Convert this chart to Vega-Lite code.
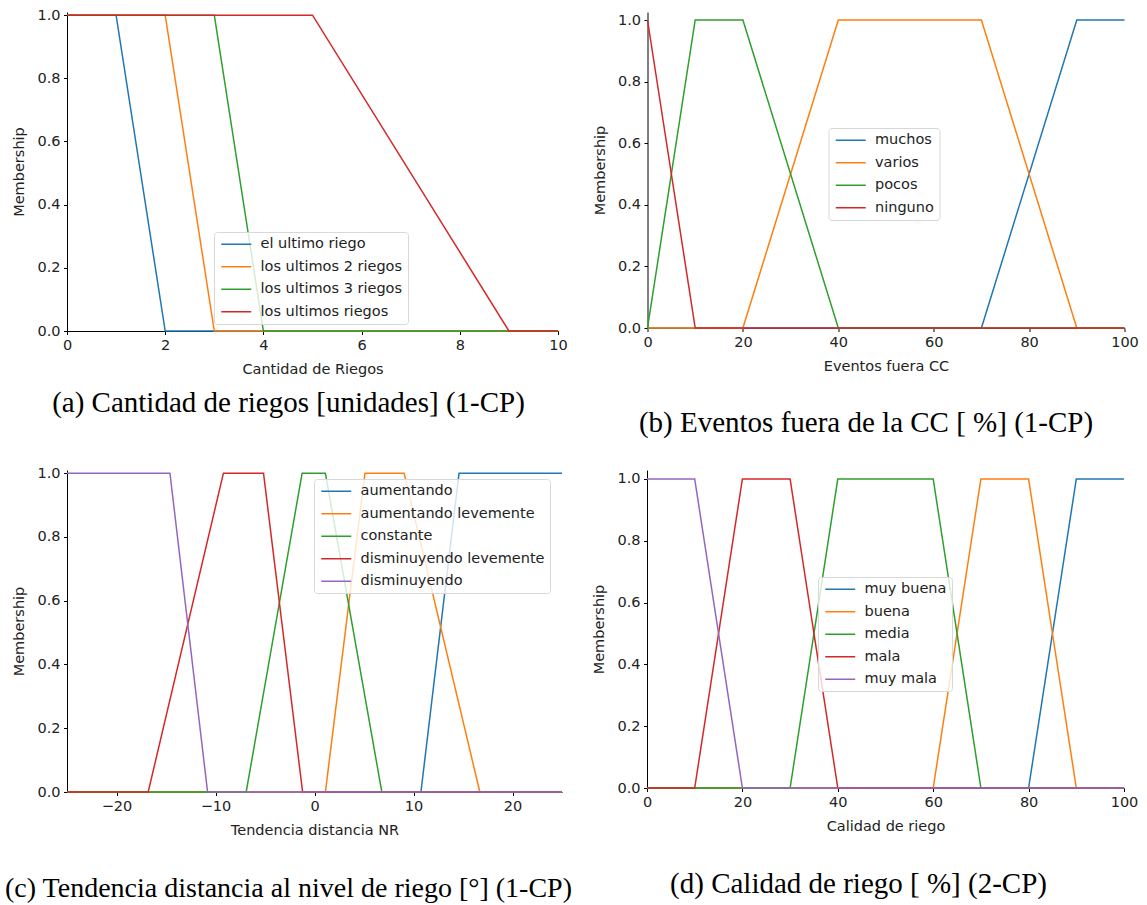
{
  "$schema": "https://vega.github.io/schema/vega-lite/v6.json",
  "background": "white",
  "padding": {"left": 4, "top": 7, "right": 5, "bottom": 5},
  "datasets": {
    "a": [
      {"x": 0, "y": 1, "s": "el ultimo riego"}, {"x": 1, "y": 1, "s": "el ultimo riego"}, {"x": 2, "y": 0, "s": "el ultimo riego"}, {"x": 10, "y": 0, "s": "el ultimo riego"},
      {"x": 0, "y": 1, "s": "los ultimos 2 riegos"}, {"x": 2, "y": 1, "s": "los ultimos 2 riegos"}, {"x": 3, "y": 0, "s": "los ultimos 2 riegos"}, {"x": 10, "y": 0, "s": "los ultimos 2 riegos"},
      {"x": 0, "y": 1, "s": "los ultimos 3 riegos"}, {"x": 3, "y": 1, "s": "los ultimos 3 riegos"}, {"x": 4, "y": 0, "s": "los ultimos 3 riegos"}, {"x": 10, "y": 0, "s": "los ultimos 3 riegos"},
      {"x": 0, "y": 1, "s": "los ultimos riegos"}, {"x": 5, "y": 1, "s": "los ultimos riegos"}, {"x": 9, "y": 0, "s": "los ultimos riegos"}, {"x": 10, "y": 0, "s": "los ultimos riegos"}
    ],
    "b": [
      {"x": 0, "y": 0, "s": "muchos"}, {"x": 70, "y": 0, "s": "muchos"}, {"x": 90, "y": 1, "s": "muchos"}, {"x": 100, "y": 1, "s": "muchos"},
      {"x": 0, "y": 0, "s": "varios"}, {"x": 20, "y": 0, "s": "varios"}, {"x": 40, "y": 1, "s": "varios"}, {"x": 70, "y": 1, "s": "varios"}, {"x": 90, "y": 0, "s": "varios"}, {"x": 100, "y": 0, "s": "varios"},
      {"x": 0, "y": 0, "s": "pocos"}, {"x": 10, "y": 1, "s": "pocos"}, {"x": 20, "y": 1, "s": "pocos"}, {"x": 40, "y": 0, "s": "pocos"}, {"x": 100, "y": 0, "s": "pocos"},
      {"x": 0, "y": 1, "s": "ninguno"}, {"x": 10, "y": 0, "s": "ninguno"}, {"x": 100, "y": 0, "s": "ninguno"}
    ],
    "c": [
      {"x": -25, "y": 0, "s": "aumentando"}, {"x": 10.75, "y": 0, "s": "aumentando"}, {"x": 14.6, "y": 1, "s": "aumentando"}, {"x": 25, "y": 1, "s": "aumentando"},
      {"x": -25, "y": 0, "s": "aumentando levemente"}, {"x": 1.1, "y": 0, "s": "aumentando levemente"}, {"x": 5.1, "y": 1, "s": "aumentando levemente"}, {"x": 9.05, "y": 1, "s": "aumentando levemente"}, {"x": 16.7, "y": 0, "s": "aumentando levemente"}, {"x": 25, "y": 0, "s": "aumentando levemente"},
      {"x": -25, "y": 0, "s": "constante"}, {"x": -6.9, "y": 0, "s": "constante"}, {"x": -1.25, "y": 1, "s": "constante"}, {"x": 1.1, "y": 1, "s": "constante"}, {"x": 6.8, "y": 0, "s": "constante"}, {"x": 25, "y": 0, "s": "constante"},
      {"x": -25, "y": 0, "s": "disminuyendo levemente"}, {"x": -16.8, "y": 0, "s": "disminuyendo levemente"}, {"x": -9.2, "y": 1, "s": "disminuyendo levemente"}, {"x": -5.15, "y": 1, "s": "disminuyendo levemente"}, {"x": -1.2, "y": 0, "s": "disminuyendo levemente"}, {"x": 25, "y": 0, "s": "disminuyendo levemente"},
      {"x": -25, "y": 1, "s": "disminuyendo"}, {"x": -14.6, "y": 1, "s": "disminuyendo"}, {"x": -10.8, "y": 0, "s": "disminuyendo"}, {"x": 25, "y": 0, "s": "disminuyendo"}
    ],
    "d": [
      {"x": 0, "y": 0, "s": "muy buena"}, {"x": 80, "y": 0, "s": "muy buena"}, {"x": 90, "y": 1, "s": "muy buena"}, {"x": 100, "y": 1, "s": "muy buena"},
      {"x": 0, "y": 0, "s": "buena"}, {"x": 60, "y": 0, "s": "buena"}, {"x": 70, "y": 1, "s": "buena"}, {"x": 80, "y": 1, "s": "buena"}, {"x": 90, "y": 0, "s": "buena"}, {"x": 100, "y": 0, "s": "buena"},
      {"x": 0, "y": 0, "s": "media"}, {"x": 30, "y": 0, "s": "media"}, {"x": 40, "y": 1, "s": "media"}, {"x": 60, "y": 1, "s": "media"}, {"x": 70, "y": 0, "s": "media"}, {"x": 100, "y": 0, "s": "media"},
      {"x": 0, "y": 0, "s": "mala"}, {"x": 10, "y": 0, "s": "mala"}, {"x": 20, "y": 1, "s": "mala"}, {"x": 30, "y": 1, "s": "mala"}, {"x": 40, "y": 0, "s": "mala"}, {"x": 100, "y": 0, "s": "mala"},
      {"x": 0, "y": 1, "s": "muy mala"}, {"x": 10, "y": 1, "s": "muy mala"}, {"x": 20, "y": 0, "s": "muy mala"}, {"x": 100, "y": 0, "s": "muy mala"}
    ]
  },
  "config": {
    "view": {"stroke": null},
    "axis": {
      "grid": false,
      "domainColor": "#000", "domainWidth": 1,
      "tickColor": "#000", "tickWidth": 1, "tickSize": 3.5,
      "labelColor": "#222", "titleColor": "#222",
      "labelFont": "DejaVu Sans", "titleFont": "DejaVu Sans",
      "labelFontSize": 14.5, "titleFontSize": 14.5, "titleFontWeight": "normal",
      "labelPadding": 3.5, "labelFlush": false, "labelOverlap": false, "labelBound": false
    },
    "axisX": {"titlePadding": 11},
    "axisY": {"titlePadding": 10},
    "legend": {
      "orient": "none", "title": null,
      "symbolType": "M-3,0H3", "symbolSize": 100, "symbolStrokeWidth": 1.5, "symbolOffset": 10, "symbolFillColor": "transparent",
      "labelFont": "DejaVu Sans", "labelFontSize": 14.5, "labelColor": "#222", "labelLimit": 400,
      "labelOffset": 17, "rowPadding": 7.5, "padding": 5,
      "fillColor": "rgba(255,255,255,0.8)", "strokeColor": "#d8d8d8", "cornerRadius": 3
    },
    "title": {"font": "Liberation Serif", "fontSize": 29, "fontWeight": "normal", "color": "#000", "orient": "bottom", "anchor": "middle"},
    "line": {"strokeWidth": 1.5, "clip": true}
  },
  "bounds": "flush",
  "spacing": 458,
  "resolve": {"scale": {"x": "independent", "y": "independent", "color": "independent"}, "legend": {"color": "independent"}},
  "vconcat": [
    {
      "bounds": "flush",
      "spacing": 89.5,
      "resolve": {"scale": {"x": "independent", "y": "independent", "color": "independent"}, "legend": {"color": "independent"}},
      "hconcat": [
        {
          "width": 491, "height": 319,
          "data": {"name": "a"},
          "title": {"text": "(a) Cantidad de riegos [unidades] (1-CP)", "offset": 12.5, "dx": -24},
          "mark": "line",
          "encoding": {
            "x": {"field": "x", "type": "quantitative", "scale": {"domain": [0, 10], "nice": false, "zero": false}, "axis": {"values": [0, 2, 4, 6, 8, 10], "title": "Cantidad de Riegos"}},
            "y": {"field": "y", "type": "quantitative", "scale": {"domain": [0, 1.01], "nice": false}, "axis": {"values": [0, 0.2, 0.4, 0.6, 0.8, 1.0], "format": ".1f", "title": "Membership"}},
            "color": {"field": "s", "type": "nominal", "scale": {"domain": ["el ultimo riego", "los ultimos 2 riegos", "los ultimos 3 riegos", "los ultimos riegos"], "range": ["#1f77b4", "#ff7f0e", "#2ca02c", "#d62728"]}, "legend": {"legendX": 147, "legendY": 220, "labelFontSize": 14.5}}
          }
        },
        {
          "width": 477, "height": 316,
          "data": {"name": "b"},
          "title": {"text": "(b) Eventos fuera de la CC [ %] (1-CP)", "offset": 35.5, "dx": -20},
          "mark": "line",
          "encoding": {
            "x": {"field": "x", "type": "quantitative", "scale": {"domain": [0, 100], "nice": false, "zero": false}, "axis": {"values": [0, 20, 40, 60, 80, 100], "title": "Eventos fuera CC"}},
            "y": {"field": "y", "type": "quantitative", "scale": {"domain": [0, 1.026], "nice": false}, "axis": {"values": [0, 0.2, 0.4, 0.6, 0.8, 1.0], "format": ".1f", "title": "Membership"}},
            "color": {"field": "s", "type": "nominal", "scale": {"domain": ["muchos", "varios", "pocos", "ninguno"], "range": ["#1f77b4", "#ff7f0e", "#2ca02c", "#d62728"]}, "legend": {"legendX": 181, "legendY": 116, "labelFontSize": 14.5}}
          }
        }
      ]
    },
    {
      "bounds": "flush",
      "spacing": 85,
      "resolve": {"scale": {"x": "independent", "y": "independent", "color": "independent"}, "legend": {"color": "independent"}},
      "hconcat": [
        {
          "width": 495, "height": 322,
          "data": {"name": "c"},
          "title": {"text": "(c) Tendencia distancia al nivel de riego [°] (1-CP)", "offset": 37.5, "dx": -26, "fontSize": 28},
          "mark": "line",
          "encoding": {
            "x": {"field": "x", "type": "quantitative", "scale": {"domain": [-25, 25], "nice": false, "zero": false}, "axis": {"values": [-20, -10, 0, 10, 20], "title": "Tendencia distancia NR"}},
            "y": {"field": "y", "type": "quantitative", "scale": {"domain": [0, 1.01], "nice": false}, "axis": {"values": [0, 0.2, 0.4, 0.6, 0.8, 1.0], "format": ".1f", "title": "Membership"}},
            "color": {"field": "s", "type": "nominal", "scale": {"domain": ["aumentando", "aumentando levemente", "constante", "disminuyendo levemente", "disminuyendo"], "range": ["#1f77b4", "#ff7f0e", "#2ca02c", "#d62728", "#9467bd"]}, "legend": {"legendX": 247, "legendY": 9, "labelFontSize": 14.5}}
          }
        },
        {
          "width": 477, "height": 318,
          "data": {"name": "d"},
          "title": {"text": "(d) Calidad de riego [ %] (2-CP)", "offset": 36.5, "dx": -27},
          "mark": "line",
          "encoding": {
            "x": {"field": "x", "type": "quantitative", "scale": {"domain": [0, 100], "nice": false, "zero": false}, "axis": {"values": [0, 20, 40, 60, 80, 100], "title": "Calidad de riego"}},
            "y": {"field": "y", "type": "quantitative", "scale": {"domain": [0, 1.029], "nice": false}, "axis": {"values": [0, 0.2, 0.4, 0.6, 0.8, 1.0], "format": ".1f", "title": "Membership"}},
            "color": {"field": "s", "type": "nominal", "scale": {"domain": ["muy buena", "buena", "media", "mala", "muy mala"], "range": ["#1f77b4", "#ff7f0e", "#2ca02c", "#d62728", "#9467bd"]}, "legend": {"legendX": 171, "legendY": 107, "labelFontSize": 14.5}}
          }
        }
      ]
    }
  ]
}
